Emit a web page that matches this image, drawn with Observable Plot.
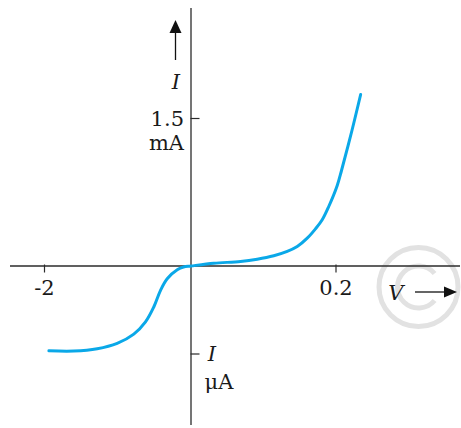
<!DOCTYPE html>
<html>
<head>
<meta charset="utf-8">
<script src="https://cdn.jsdelivr.net/npm/d3@7"></script>
<script src="https://cdn.jsdelivr.net/npm/@observablehq/plot@0.6"></script>
<style>
  html, body { margin: 0; padding: 0; background: #fff; }
  svg { display: block; }
</style>
</head>
<body>
<div id="chart"></div>
<script>
// Diode I–V characteristic (forward current in mA, reverse current in μA)
const voltage = [-1.94, -1.60, -1.28, -1.008, -0.781, -0.621, -0.508, -0.416, -0.325, -0.188, -0.102, 0,
                 0.0314, 0.0683, 0.0913, 0.1142, 0.1327, 0.1465, 0.1603, 0.1717, 0.181, 0.190, 0.2017, 0.2076, 0.222, 0.234];
const current = [-0.963, -0.966, -0.940, -0.879, -0.774, -0.635, -0.466, -0.277, -0.145, -0.043, -0.011, 0,
                 0.028, 0.046, 0.069, 0.104, 0.148, 0.198, 0.283, 0.378, 0.470, 0.605, 0.819, 0.971, 1.378, 1.744];

const xTicks = [-2, 0.2];
const xTickLabels = ["-2", "0.2"];
const yTicks = [1.5, -1];
const yTickLabels = ["1.5", "I"];
const yUnits = ["mA", "μA"];
const xName = "V";
const yName = "I";

const curve = voltage.map((v, i) => ({v, i: current[i]}));
const serif = "DejaVu Serif, serif";
const axisColor = "#2b2b2b";
const textColor = "#1a1a1a";
const lineColor = "#0aa8e8";
const fs = 21;

// axis arrows and copyright watermark (decoration anchored to the axes origin)
const decorations = (index, {x, y}, values, dims) => {
  const ns = "http://www.w3.org/2000/svg";
  const g = document.createElementNS(ns, "g");
  const ox = x(0), oy = y(0);
  const add = (tag, attrs) => {
    const el = document.createElementNS(ns, tag);
    for (const k in attrs) el.setAttribute(k, attrs[k]);
    g.appendChild(el);
    return el;
  };
  // watermark
  const cx = ox + 228, cy = oy + 21.5;
  add("circle", {cx, cy, r: 39.5, fill: "none", stroke: "#e2e2e2", "stroke-width": 5});
  const r = 21, a0 = 40 * Math.PI / 180;
  add("path", {
    d: `M${cx + r * Math.cos(a0)},${cy - r * Math.sin(a0)} A${r},${r} 0 1 0 ${cx + r * Math.cos(a0)},${cy + r * Math.sin(a0)}`,
    fill: "none", stroke: "#e2e2e2", "stroke-width": 5
  });
  // up arrow near I
  const ax = ox - 15;
  add("line", {x1: ax, x2: ax, y1: 60, y2: 30, stroke: "#111", "stroke-width": 1.3});
  add("path", {d: `M${ax},20 L${ax - 6},33 L${ax + 6},33 Z`, fill: "#111"});
  // right arrow near V
  const ay = oy + 26.5;
  add("line", {x1: 415, x2: 446, y1: ay, y2: ay, stroke: "#111", "stroke-width": 1.3});
  add("path", {d: `M457,${ay} L444,${ay - 5.5} L444,${ay + 5.5} Z`, fill: "#111"});
  return g;
};

const plot = Plot.plot({
  width: 461,
  height: 428,
  marginTop: 8,
  marginBottom: 3,
  marginLeft: 10,
  marginRight: 1,
  style: {background: "#fff", fontFamily: serif},
  x: {type: "linear", domain: [-2, 0, 0.2], range: [44, 190.5, 335.5], axis: null},
  y: {type: "linear", domain: [-1, 0, 1.5], range: [353.5, 265.5, 118], axis: null},
  marks: [
    decorations,
    // axes
    Plot.ruleY([0], {stroke: axisColor, strokeWidth: 1.3}),
    Plot.ruleX([0], {stroke: axisColor, strokeWidth: 1.3}),
    // ticks
    Plot.ruleX(xTicks, {x: d => d, y1: 0, y2: 0, insetTop: -1, insetBottom: -7, stroke: axisColor, strokeWidth: 1.2}),
    Plot.ruleY(yTicks, {y: d => d, x1: 0, x2: 0, insetLeft: 0, insetRight: -9, stroke: axisColor, strokeWidth: 1.2}),
    // x tick labels
    Plot.text(xTicks, {x: d => d, y: 0, text: (d, i) => xTickLabels[i], dy: 22, fontSize: fs, fill: textColor}),
    // y tick labels
    Plot.text([yTicks[0]], {x: 0, y: d => d, text: () => yTickLabels[0], dx: -7, dy: 1, textAnchor: "end", fontSize: fs, fill: textColor}),
    Plot.text([yTicks[0]], {x: 0, y: d => d, text: () => yUnits[0], dx: -7, dy: 25, textAnchor: "end", fontSize: fs, fill: textColor}),
    Plot.text([yTicks[1]], {x: 0, y: d => d, text: () => yTickLabels[1], dx: 21, dy: 0, fontSize: fs, fontStyle: "italic", fill: textColor}),
    Plot.text([yTicks[1]], {x: 0, y: d => d, text: () => yUnits[1], dx: 28, dy: 28, fontSize: fs, fill: textColor}),
    // axis names
    Plot.text([yName], {x: 0, frameAnchor: "top", dx: -15, dy: 66, fontSize: fs, fontStyle: "italic", fill: textColor}),
    Plot.text([xName], {y: 0, frameAnchor: "right", dx: -57, dy: 27, fontSize: fs, fontStyle: "italic", fill: textColor}),
    // curve
    Plot.line(curve, {x: "v", y: "i", curve: "catmull-rom", stroke: lineColor, strokeWidth: 3})
  ]
});
document.getElementById("chart").appendChild(plot);
</script>
</body>
</html>
